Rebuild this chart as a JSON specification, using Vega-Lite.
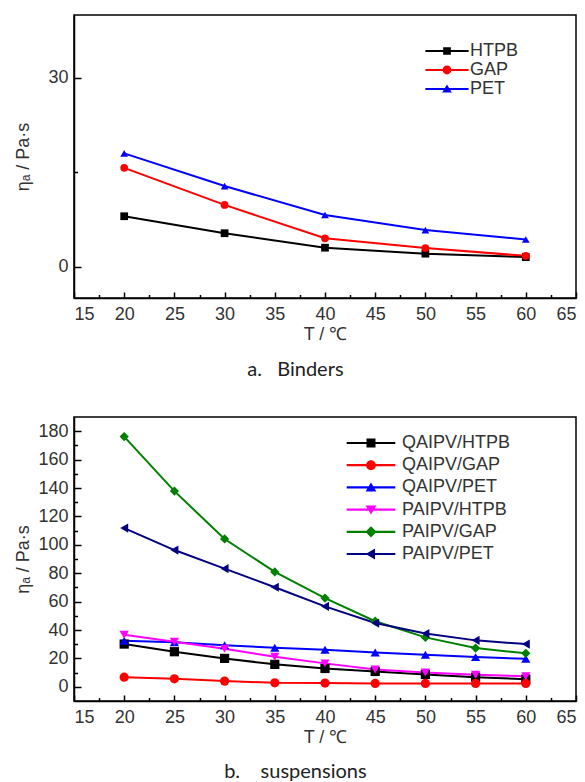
{
  "$schema": "https://vega.github.io/schema/vega-lite/v6.json",
  "padding": {"left": 13, "top": 14, "right": 0, "bottom": 2},
  "bounds": "flush",
  "spacing": 119,
  "background": "white",
  "resolve": {"scale": {"color": "independent", "shape": "independent", "stroke": "independent"}, "legend": {"color": "independent", "shape": "independent"}},
  "datasets": {
    "binders": [
      {"T": 20, "eta": 8.0, "series": "HTPB"},
      {"T": 30, "eta": 5.3, "series": "HTPB"},
      {"T": 40, "eta": 3.0, "series": "HTPB"},
      {"T": 50, "eta": 2.05, "series": "HTPB"},
      {"T": 60, "eta": 1.5, "series": "HTPB"},
      {"T": 20, "eta": 15.7, "series": "GAP"},
      {"T": 30, "eta": 9.8, "series": "GAP"},
      {"T": 40, "eta": 4.5, "series": "GAP"},
      {"T": 50, "eta": 2.95, "series": "GAP"},
      {"T": 60, "eta": 1.7, "series": "GAP"},
      {"T": 20, "eta": 18.0, "series": "PET"},
      {"T": 30, "eta": 12.8, "series": "PET"},
      {"T": 40, "eta": 8.2, "series": "PET"},
      {"T": 50, "eta": 5.8, "series": "PET"},
      {"T": 60, "eta": 4.3, "series": "PET"}
    ],
    "susp": [
      {"T": 20, "eta": 30.1, "series": "QAIPV/HTPB"},
      {"T": 25, "eta": 24.7, "series": "QAIPV/HTPB"},
      {"T": 30, "eta": 20.0, "series": "QAIPV/HTPB"},
      {"T": 35, "eta": 15.8, "series": "QAIPV/HTPB"},
      {"T": 40, "eta": 12.9, "series": "QAIPV/HTPB"},
      {"T": 45, "eta": 10.8, "series": "QAIPV/HTPB"},
      {"T": 50, "eta": 8.7, "series": "QAIPV/HTPB"},
      {"T": 55, "eta": 6.8, "series": "QAIPV/HTPB"},
      {"T": 60, "eta": 5.4, "series": "QAIPV/HTPB"},
      {"T": 20, "eta": 6.8, "series": "QAIPV/GAP"},
      {"T": 25, "eta": 5.6, "series": "QAIPV/GAP"},
      {"T": 30, "eta": 4.0, "series": "QAIPV/GAP"},
      {"T": 35, "eta": 2.8, "series": "QAIPV/GAP"},
      {"T": 40, "eta": 2.6, "series": "QAIPV/GAP"},
      {"T": 45, "eta": 2.4, "series": "QAIPV/GAP"},
      {"T": 50, "eta": 2.4, "series": "QAIPV/GAP"},
      {"T": 55, "eta": 2.4, "series": "QAIPV/GAP"},
      {"T": 60, "eta": 2.4, "series": "QAIPV/GAP"},
      {"T": 20, "eta": 32.5, "series": "QAIPV/PET"},
      {"T": 25, "eta": 31.3, "series": "QAIPV/PET"},
      {"T": 30, "eta": 29.2, "series": "QAIPV/PET"},
      {"T": 35, "eta": 27.5, "series": "QAIPV/PET"},
      {"T": 40, "eta": 26.1, "series": "QAIPV/PET"},
      {"T": 45, "eta": 24.2, "series": "QAIPV/PET"},
      {"T": 50, "eta": 22.6, "series": "QAIPV/PET"},
      {"T": 55, "eta": 20.9, "series": "QAIPV/PET"},
      {"T": 60, "eta": 19.8, "series": "QAIPV/PET"},
      {"T": 20, "eta": 36.7, "series": "PAIPV/HTPB"},
      {"T": 25, "eta": 31.8, "series": "PAIPV/HTPB"},
      {"T": 30, "eta": 26.8, "series": "PAIPV/HTPB"},
      {"T": 35, "eta": 21.2, "series": "PAIPV/HTPB"},
      {"T": 40, "eta": 16.5, "series": "PAIPV/HTPB"},
      {"T": 45, "eta": 12.2, "series": "PAIPV/HTPB"},
      {"T": 50, "eta": 10.1, "series": "PAIPV/HTPB"},
      {"T": 55, "eta": 8.5, "series": "PAIPV/HTPB"},
      {"T": 60, "eta": 7.5, "series": "PAIPV/HTPB"},
      {"T": 20, "eta": 176.2, "series": "PAIPV/GAP"},
      {"T": 25, "eta": 137.8, "series": "PAIPV/GAP"},
      {"T": 30, "eta": 104.1, "series": "PAIPV/GAP"},
      {"T": 35, "eta": 80.9, "series": "PAIPV/GAP"},
      {"T": 40, "eta": 62.5, "series": "PAIPV/GAP"},
      {"T": 45, "eta": 46.2, "series": "PAIPV/GAP"},
      {"T": 50, "eta": 34.8, "series": "PAIPV/GAP"},
      {"T": 55, "eta": 27.3, "series": "PAIPV/GAP"},
      {"T": 60, "eta": 23.6, "series": "PAIPV/GAP"},
      {"T": 20, "eta": 111.8, "series": "PAIPV/PET"},
      {"T": 25, "eta": 96.3, "series": "PAIPV/PET"},
      {"T": 30, "eta": 83.2, "series": "PAIPV/PET"},
      {"T": 35, "eta": 70.1, "series": "PAIPV/PET"},
      {"T": 40, "eta": 56.6, "series": "PAIPV/PET"},
      {"T": 45, "eta": 44.9, "series": "PAIPV/PET"},
      {"T": 50, "eta": 37.5, "series": "PAIPV/PET"},
      {"T": 55, "eta": 32.7, "series": "PAIPV/PET"},
      {"T": 60, "eta": 30.1, "series": "PAIPV/PET"}
    ]
  },
  "vconcat": [
    {
      "width": 502,
      "height": 283,
      "data": {"name": "binders"},
      "title": {"text": "a.\u00a0\u00a0 Binders", "orient": "bottom", "anchor": "middle", "frame": "bounds", "font": "Lato", "fontSize": 20, "fontWeight": "normal", "color": "#222", "offset": 17},
      "layer": [
        {
          "mark": {"type": "line", "strokeWidth": 2},
          "encoding": {
            "x": {"field": "T", "type": "quantitative", "scale": {"domain": [15, 65], "nice": false, "zero": false},
              "axis": {"orient": "bottom", "values": [15, 20, 25, 30, 35, 40, 45, 50, 55, 60, 65], "tickSize": -6, "labelPadding": 13, "title": "T / ℃", "titlePadding": 2}},
            "y": {"field": "eta", "type": "quantitative", "scale": {"domain": [-5, 40], "nice": false, "zero": false},
              "axis": {"orient": "left", "values": [0, 30], "tickSize": -7, "labelPadding": 13, "title": "ηₐ / Pa·s", "titleX": -42, "titleY": 141.5}},
            "stroke": {"field": "series", "type": "nominal", "scale": {"domain": ["PET", "GAP", "HTPB"], "range": ["#0000ff", "#ff0000", "#000000"]}, "legend": null}
          }
        },
        {
          "mark": {"type": "point", "filled": true, "opacity": 1, "size": 60},
          "encoding": {
            "x": {"field": "T", "type": "quantitative",
              "axis": {"orient": "bottom", "values": [17.5, 22.5, 27.5, 32.5, 37.5, 42.5, 47.5, 52.5, 57.5, 62.5], "tickSize": -3.5, "labels": false, "domain": false, "title": null}},
            "y": {"field": "eta", "type": "quantitative",
              "axis": {"orient": "left", "values": [15], "tickSize": -3.5, "labels": false, "domain": false, "title": null}},
            "color": {"field": "series", "type": "nominal", "scale": {"domain": ["HTPB", "GAP", "PET"], "range": ["#000000", "#ff0000", "#0000ff"]},
              "legend": {"orient": "none", "legendX": 364, "legendY": 27, "title": null, "symbolSize": 256, "symbolStrokeWidth": 0, "labelOffset": 14, "rowPadding": 1, "padding": 0, "labelFont": "Liberation Sans", "labelFontSize": 18, "labelColor": "#333",
                "encoding": {"symbols": {"shape": {"value": {"expr": "datum.value === 'HTPB' ? 'M-2.7 -0.13L2.7 -0.13L2.7 0.13L-2.7 0.13Z M-0.48 -0.48L0.48 -0.48L0.48 0.48L-0.48 0.48Z' : datum.value === 'GAP' ? 'M-2.7 -0.13L2.7 -0.13L2.7 0.13L-2.7 0.13Z M0.55 0A0.55 0.55 0 1 1 -0.55 0A0.55 0.55 0 1 1 0.55 0Z' : 'M-2.7 -0.13L2.7 -0.13L2.7 0.13L-2.7 0.13Z M0 -0.55L0.6 0.45L-0.6 0.45Z'"}}}}}},
            "shape": {"field": "series", "type": "nominal", "scale": {"domain": ["PET", "GAP", "HTPB"], "range": ["triangle-up", "circle", "square"]}, "legend": null}
          }
        }
      ],
      "resolve": {"axis": {"x": "independent", "y": "independent"}}
    },
    {
      "width": 502,
      "height": 284,
      "data": {"name": "susp"},
      "title": {"text": "b.\u00a0\u00a0\u00a0 suspensions", "orient": "bottom", "anchor": "middle", "frame": "bounds", "font": "Lato", "fontSize": 20, "fontWeight": "normal", "color": "#222", "offset": 16},
      "layer": [
        {
          "mark": {"type": "line", "strokeWidth": 2},
          "encoding": {
            "x": {"field": "T", "type": "quantitative", "scale": {"domain": [15, 65], "nice": false, "zero": false},
              "axis": {"orient": "bottom", "values": [15, 20, 25, 30, 35, 40, 45, 50, 55, 60, 65], "tickSize": -6, "labelPadding": 13, "title": "T / ℃", "titlePadding": 2}},
            "y": {"field": "eta", "type": "quantitative", "scale": {"domain": [-10, 190], "nice": false, "zero": false},
              "axis": {"orient": "left", "values": [0, 20, 40, 60, 80, 100, 120, 140, 160, 180], "tickSize": -7, "labelPadding": 13, "title": "ηₐ / Pa·s", "titleX": -42, "titleY": 142}},
            "stroke": {"field": "series", "type": "nominal", "scale": {"domain": ["PAIPV/PET", "PAIPV/GAP", "PAIPV/HTPB", "QAIPV/PET", "QAIPV/GAP", "QAIPV/HTPB"], "range": ["#000080", "#008000", "#ff00ff", "#0000ff", "#ff0000", "#000000"]}, "legend": null}
          }
        },
        {
          "mark": {"type": "point", "filled": true, "opacity": 1, "size": 85},
          "encoding": {
            "x": {"field": "T", "type": "quantitative",
              "axis": {"orient": "bottom", "values": [17.5, 22.5, 27.5, 32.5, 37.5, 42.5, 47.5, 52.5, 57.5, 62.5], "tickSize": -3.5, "labels": false, "domain": false, "title": null}},
            "y": {"field": "eta", "type": "quantitative",
              "axis": {"orient": "left", "values": [10, 30, 50, 70, 90, 110, 130, 150, 170], "tickSize": -3.5, "labels": false, "domain": false, "title": null}},
            "color": {"field": "series", "type": "nominal", "scale": {"domain": ["QAIPV/HTPB", "QAIPV/GAP", "QAIPV/PET", "PAIPV/HTPB", "PAIPV/GAP", "PAIPV/PET"], "range": ["#000000", "#ff0000", "#0000ff", "#ff00ff", "#008000", "#000080"]},
              "legend": {"orient": "none", "legendX": 288, "legendY": 17, "title": null, "symbolSize": 324, "symbolStrokeWidth": 0, "labelOffset": 22, "rowPadding": 4.2, "padding": 0, "labelFont": "Liberation Sans", "labelFontSize": 18, "labelColor": "#333",
                "encoding": {"symbols": {"shape": {"value": {"expr": "datum.value === 'QAIPV/HTPB' ? 'M-2.7 -0.12L2.7 -0.12L2.7 0.12L-2.7 0.12Z M-0.5 -0.5L0.5 -0.5L0.5 0.5L-0.5 0.5Z' : datum.value === 'QAIPV/GAP' ? 'M-2.7 -0.12L2.7 -0.12L2.7 0.12L-2.7 0.12Z M0.55 0A0.55 0.55 0 1 1 -0.55 0A0.55 0.55 0 1 1 0.55 0Z' : datum.value === 'QAIPV/PET' ? 'M-2.7 -0.12L2.7 -0.12L2.7 0.12L-2.7 0.12Z M0 -0.55L0.6 0.45L-0.6 0.45Z' : datum.value === 'PAIPV/HTPB' ? 'M-2.7 -0.12L2.7 -0.12L2.7 0.12L-2.7 0.12Z M0 0.55L-0.6 -0.45L0.6 -0.45Z' : datum.value === 'PAIPV/GAP' ? 'M-2.7 -0.12L2.7 -0.12L2.7 0.12L-2.7 0.12Z M0 -0.62L0.62 0L0 0.62L-0.62 0Z' : 'M-2.7 -0.12L2.7 -0.12L2.7 0.12L-2.7 0.12Z M-0.6 0L0.45 -0.6L0.45 0.6Z'"}}}}}},
            "shape": {"field": "series", "type": "nominal", "scale": {"domain": ["PAIPV/PET", "PAIPV/GAP", "PAIPV/HTPB", "QAIPV/PET", "QAIPV/GAP", "QAIPV/HTPB"], "range": ["triangle-left", "diamond", "triangle-down", "triangle-up", "circle", "square"]}, "legend": null}
          }
        }
      ],
      "resolve": {"axis": {"x": "independent", "y": "independent"}}
    }
  ],
  "config": {
    "view": {"stroke": "black", "strokeWidth": 1.5},
    "axis": {"grid": false, "domainColor": "black", "domainWidth": 1.5, "tickColor": "black", "tickWidth": 1.5,
      "labelFont": "Liberation Sans", "labelFontSize": 18, "labelColor": "#333",
      "titleFont": "Liberation Sans", "titleFontSize": 18, "titleFontWeight": "normal", "titleColor": "#333"},
    "legend": {"labelFont": "Liberation Sans", "labelFontSize": 18, "labelColor": "#333"}
  }
}
